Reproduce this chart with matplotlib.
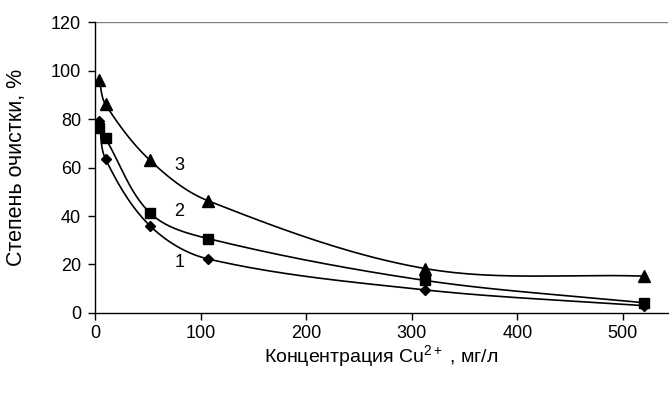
import matplotlib.pyplot as plt
import numpy as np

plt.rcParams['font.family'] = ['Liberation Sans', 'DejaVu Sans']
plt.rcParams['mathtext.fontset'] = 'custom'
plt.rcParams['mathtext.rm'] = 'Liberation Sans'
plt.rcParams['mathtext.it'] = 'Liberation Sans'

conc = [4, 10, 52, 107, 313, 520]
series1 = [79, 63.5, 36, 22.3, 9.5, 3]
series2 = [76.5, 72, 41.3, 30.7, 13.4, 4.2]
series3 = [96, 86, 63, 46.3, 18.3, 15.2]
curve_labels = ['1', '2', '3']
label_pos = [(80, 21), (80, 42), (80, 61)]
markers = ['D', 's', '^']
msizes = [5, 7, 8]

# pixel scale so the smoothing looks like Excel's
sx, sy = 105.5 / 100, 2.425


def smooth(x, y, n=40):
    pts = np.column_stack([np.array(x) * sx, np.array(y) * sy])
    m = len(pts)
    dirs = []
    for i in range(m):
        a = pts[max(i - 1, 0)]
        b = pts[min(i + 1, m - 1)]
        d = b - a
        dirs.append(d / np.hypot(*d))
    out = []
    for i in range(m - 1):
        p1, p2 = pts[i], pts[i + 1]
        L = np.hypot(*(p2 - p1)) / 3
        c1 = p1 + dirs[i] * L
        c2 = p2 - dirs[i + 1] * L
        t = np.linspace(0, 1, n)[:, None]
        seg = ((1 - t) ** 3) * p1 + 3 * ((1 - t) ** 2) * t * c1 + 3 * (1 - t) * t ** 2 * c2 + t ** 3 * p2
        out.append(seg)
    out = np.vstack(out)
    return out[:, 0] / sx, out[:, 1] / sy


fig = plt.figure(figsize=(6.69, 3.98), dpi=100)
ax = fig.add_axes([0.142, 0.2136, 0.857, 0.731])

for ys, m, ms in zip([series1, series2, series3], markers, msizes):
    xs, yy = smooth(conc, ys)
    ax.plot(xs, yy, color='black', lw=1.2)
    ax.plot(conc, ys, linestyle='none', marker=m, color='black', markersize=ms)

for lab, (lx, ly) in zip(curve_labels, label_pos):
    ax.text(lx, ly, lab, fontsize=13, ha='center', va='center')

ax.set_xlim(0, 543)
ax.set_ylim(0, 120)
ax.set_xticks([0, 100, 200, 300, 400, 500])
ax.set_yticks([0, 20, 40, 60, 80, 100, 120])
ax.axhline(120, color='#808080', lw=1)
for s in ['top', 'right']:
    ax.spines[s].set_visible(False)
ax.spines['left'].set_linewidth(1)
ax.spines['bottom'].set_linewidth(1)
ax.tick_params(direction='out', length=5, labelsize=13, width=1)
ax.tick_params(axis='y', pad=5)
ax.set_xlabel('Концентрация Cu$^{2+}$ , мг/л', fontsize=14, labelpad=1)
ax.set_ylabel('Степень очистки, %', fontsize=15.5, labelpad=17)

plt.savefig('out.png', dpi=100)
